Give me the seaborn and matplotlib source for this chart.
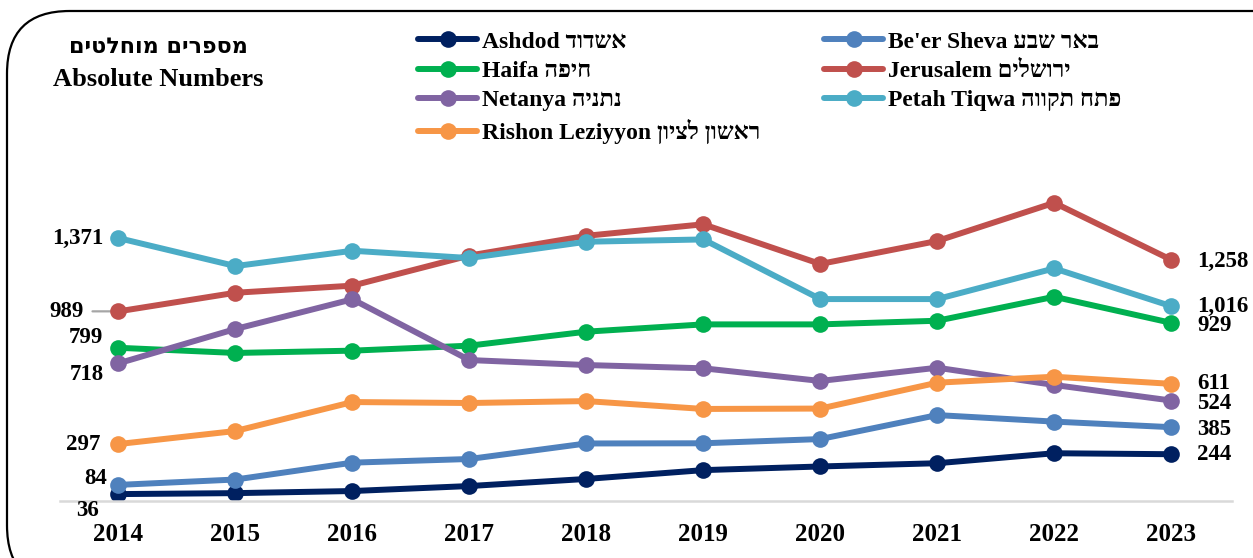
import matplotlib
matplotlib.use("Agg")
import matplotlib.pyplot as plt
from matplotlib.patches import FancyBboxPatch
import seaborn as sns
import pandas as pd

years = [2014, 2015, 2016, 2017, 2018, 2019, 2020, 2021, 2022, 2023]
cities_en = ["Ashdod", "Be'er Sheva", "Haifa", "Jerusalem", "Netanya", "Petah Tiqwa", "Rishon Leziyyon"]
cities_he = ["אשדוד", "באר שבע", "חיפה", "ירושלים", "נתניה", "פתח תקווה", "ראשון לציון"]

ashdod = [36, 41, 52, 78, 115, 161, 180, 197, 249, 244]
beer_sheva = [84, 112, 200, 219, 300, 301, 323, 448, 414, 385]
haifa = [799, 772, 784, 810, 883, 921, 921, 940, 1065, 929]
jerusalem = [989, 1086, 1123, 1280, 1383, 1443, 1236, 1356, 1555, 1258]
netanya = [718, 897, 1052, 735, 709, 692, 626, 695, 605, 524]
petah_tiqwa = [1371, 1225, 1305, 1267, 1352, 1364, 1053, 1053, 1213, 1016]
rishon = [297, 365, 516, 511, 521, 480, 482, 617, 648, 611]

colors = ["#002060", "#4F81BD", "#00B050", "#C0504D", "#8064A2", "#4BACC6", "#F79646"]

title_he = "מספרים מוחלטים"
title_en = "Absolute Numbers"

series = [ashdod, beer_sheva, haifa, jerusalem, netanya, petah_tiqwa, rishon]
labels = [f"{en} {he[::-1]}" for en, he in zip(cities_en, cities_he)]

rows = []
for lab, vals in zip(labels, series):
    for y, v in zip(years, vals):
        rows.append({"year": y, "city": lab, "value": v})
df = pd.DataFrame(rows)

sns.set_theme(style="white")
plt.rcParams["font.family"] = ["Liberation Serif", "DejaVu Sans"]
plt.rcParams["font.weight"] = "bold"
plt.rcParams["text.color"] = "black"
plt.rcParams["xtick.color"] = "black"
plt.rcParams["xtick.labelcolor"] = "black"

W, H = 1253, 558
fig = plt.figure(figsize=(W / 100, H / 100), dpi=100)
fig.patch.set_facecolor("white")

# rounded frame (extends past right/bottom edges like the reference)
frame = FancyBboxPatch((7 / W, -30 / H), 1.2, (H - 11 + 30) / H,
                       boxstyle="round,pad=0,rounding_size=0.05",
                       transform=fig.transFigure, fill=False,
                       edgecolor="black", linewidth=1.6, mutation_aspect=W / H)
fig.patches.append(frame)

ax = fig.add_axes([60 / W, 57 / H, 1172 / W, 326 / H])
ax.set_facecolor("none")
sns.lineplot(data=df, x="year", y="value", hue="city", palette=colors,
             marker="o", markersize=12, markeredgewidth=0, linewidth=4.3,
             ax=ax, legend=True)

ax.set_xlim(2013.5, 2023.52)
ax.set_ylim(0, 1700)
ax.set_xticks(years)
ax.set_xticklabels([str(y) for y in years], fontsize=18, fontweight="bold", color="black")
ax.set_yticks([])
ax.set_xlabel("")
ax.set_ylabel("")
for s in ["top", "right", "left"]:
    ax.spines[s].set_visible(False)
ax.spines["bottom"].set_color("#D9D9D9")
ax.spines["bottom"].set_linewidth(1.8)
ax.tick_params(axis="x", length=0, pad=16)

handles, _ = ax.get_legend_handles_labels()
ax.get_legend().remove()

# start value labels (dx, dy in pixels; dy positive = up)
left_off = [(-20, -16), (-11, 6), (-15, 10), (-35, 0), (-15, -11), (-15, 0), (-18, 0)]
for vals, (dx, dy) in zip(series, left_off):
    ax.annotate(f"{vals[0]:,}", xy=(years[0], vals[0]), xytext=(dx, dy),
                textcoords="offset pixels", ha="right", va="center",
                fontsize=16.5, fontweight="bold", color="black")
# leader line for Jerusalem
ax.annotate("", xy=(years[0], jerusalem[0]), xytext=(-26, 0), textcoords="offset pixels",
            arrowprops=dict(arrowstyle="-", color="#A6A6A6", lw=1.6, shrinkA=0, shrinkB=0),
            zorder=1)

# end value labels
right_dy = [0, -2, -3, -2, -3, 0, 0]
for vals, dy in zip(series, right_dy):
    ax.annotate(f"{vals[-1]:,}", xy=(years[-1], vals[-1]), xytext=(26, dy),
                textcoords="offset pixels", ha="left", va="center",
                fontsize=16.5, fontweight="bold", color="black")

# legends: column 1 and column 2
col1 = [0, 2, 4, 6]
col2 = [1, 3, 5]
leg_kw = dict(frameon=False, handlelength=2.5, handletextpad=0.2,
              labelspacing=0.33, borderpad=0, borderaxespad=0, loc="upper left",
              bbox_transform=fig.transFigure, prop={"weight": "bold", "size": 17})
leg1 = fig.legend([handles[i] for i in col1], [labels[i] for i in col1],
                  bbox_to_anchor=(418 / W, 1 - 31 / H), **leg_kw)
leg2 = fig.legend([handles[i] for i in col2], [labels[i] for i in col2],
                  bbox_to_anchor=(824 / W, 1 - 31 / H), **leg_kw)
for leg in (leg1, leg2):
    for h in leg.legend_handles:
        h.set_linewidth(4.3)
        h.set_markersize(12)
    for t in leg.get_texts():
        t.set_color("black")

fig.text(158 / W, 1 - 47 / H, title_he[::-1], ha="center", va="center",
         fontsize=16, fontweight="bold", family=["DejaVu Sans"], color="black")
fig.text(158 / W, 1 - 80 / H, title_en, ha="center", va="center",
         fontsize=19, fontweight="bold", color="black")

fig.savefig("out.png", dpi=100, facecolor="white")
